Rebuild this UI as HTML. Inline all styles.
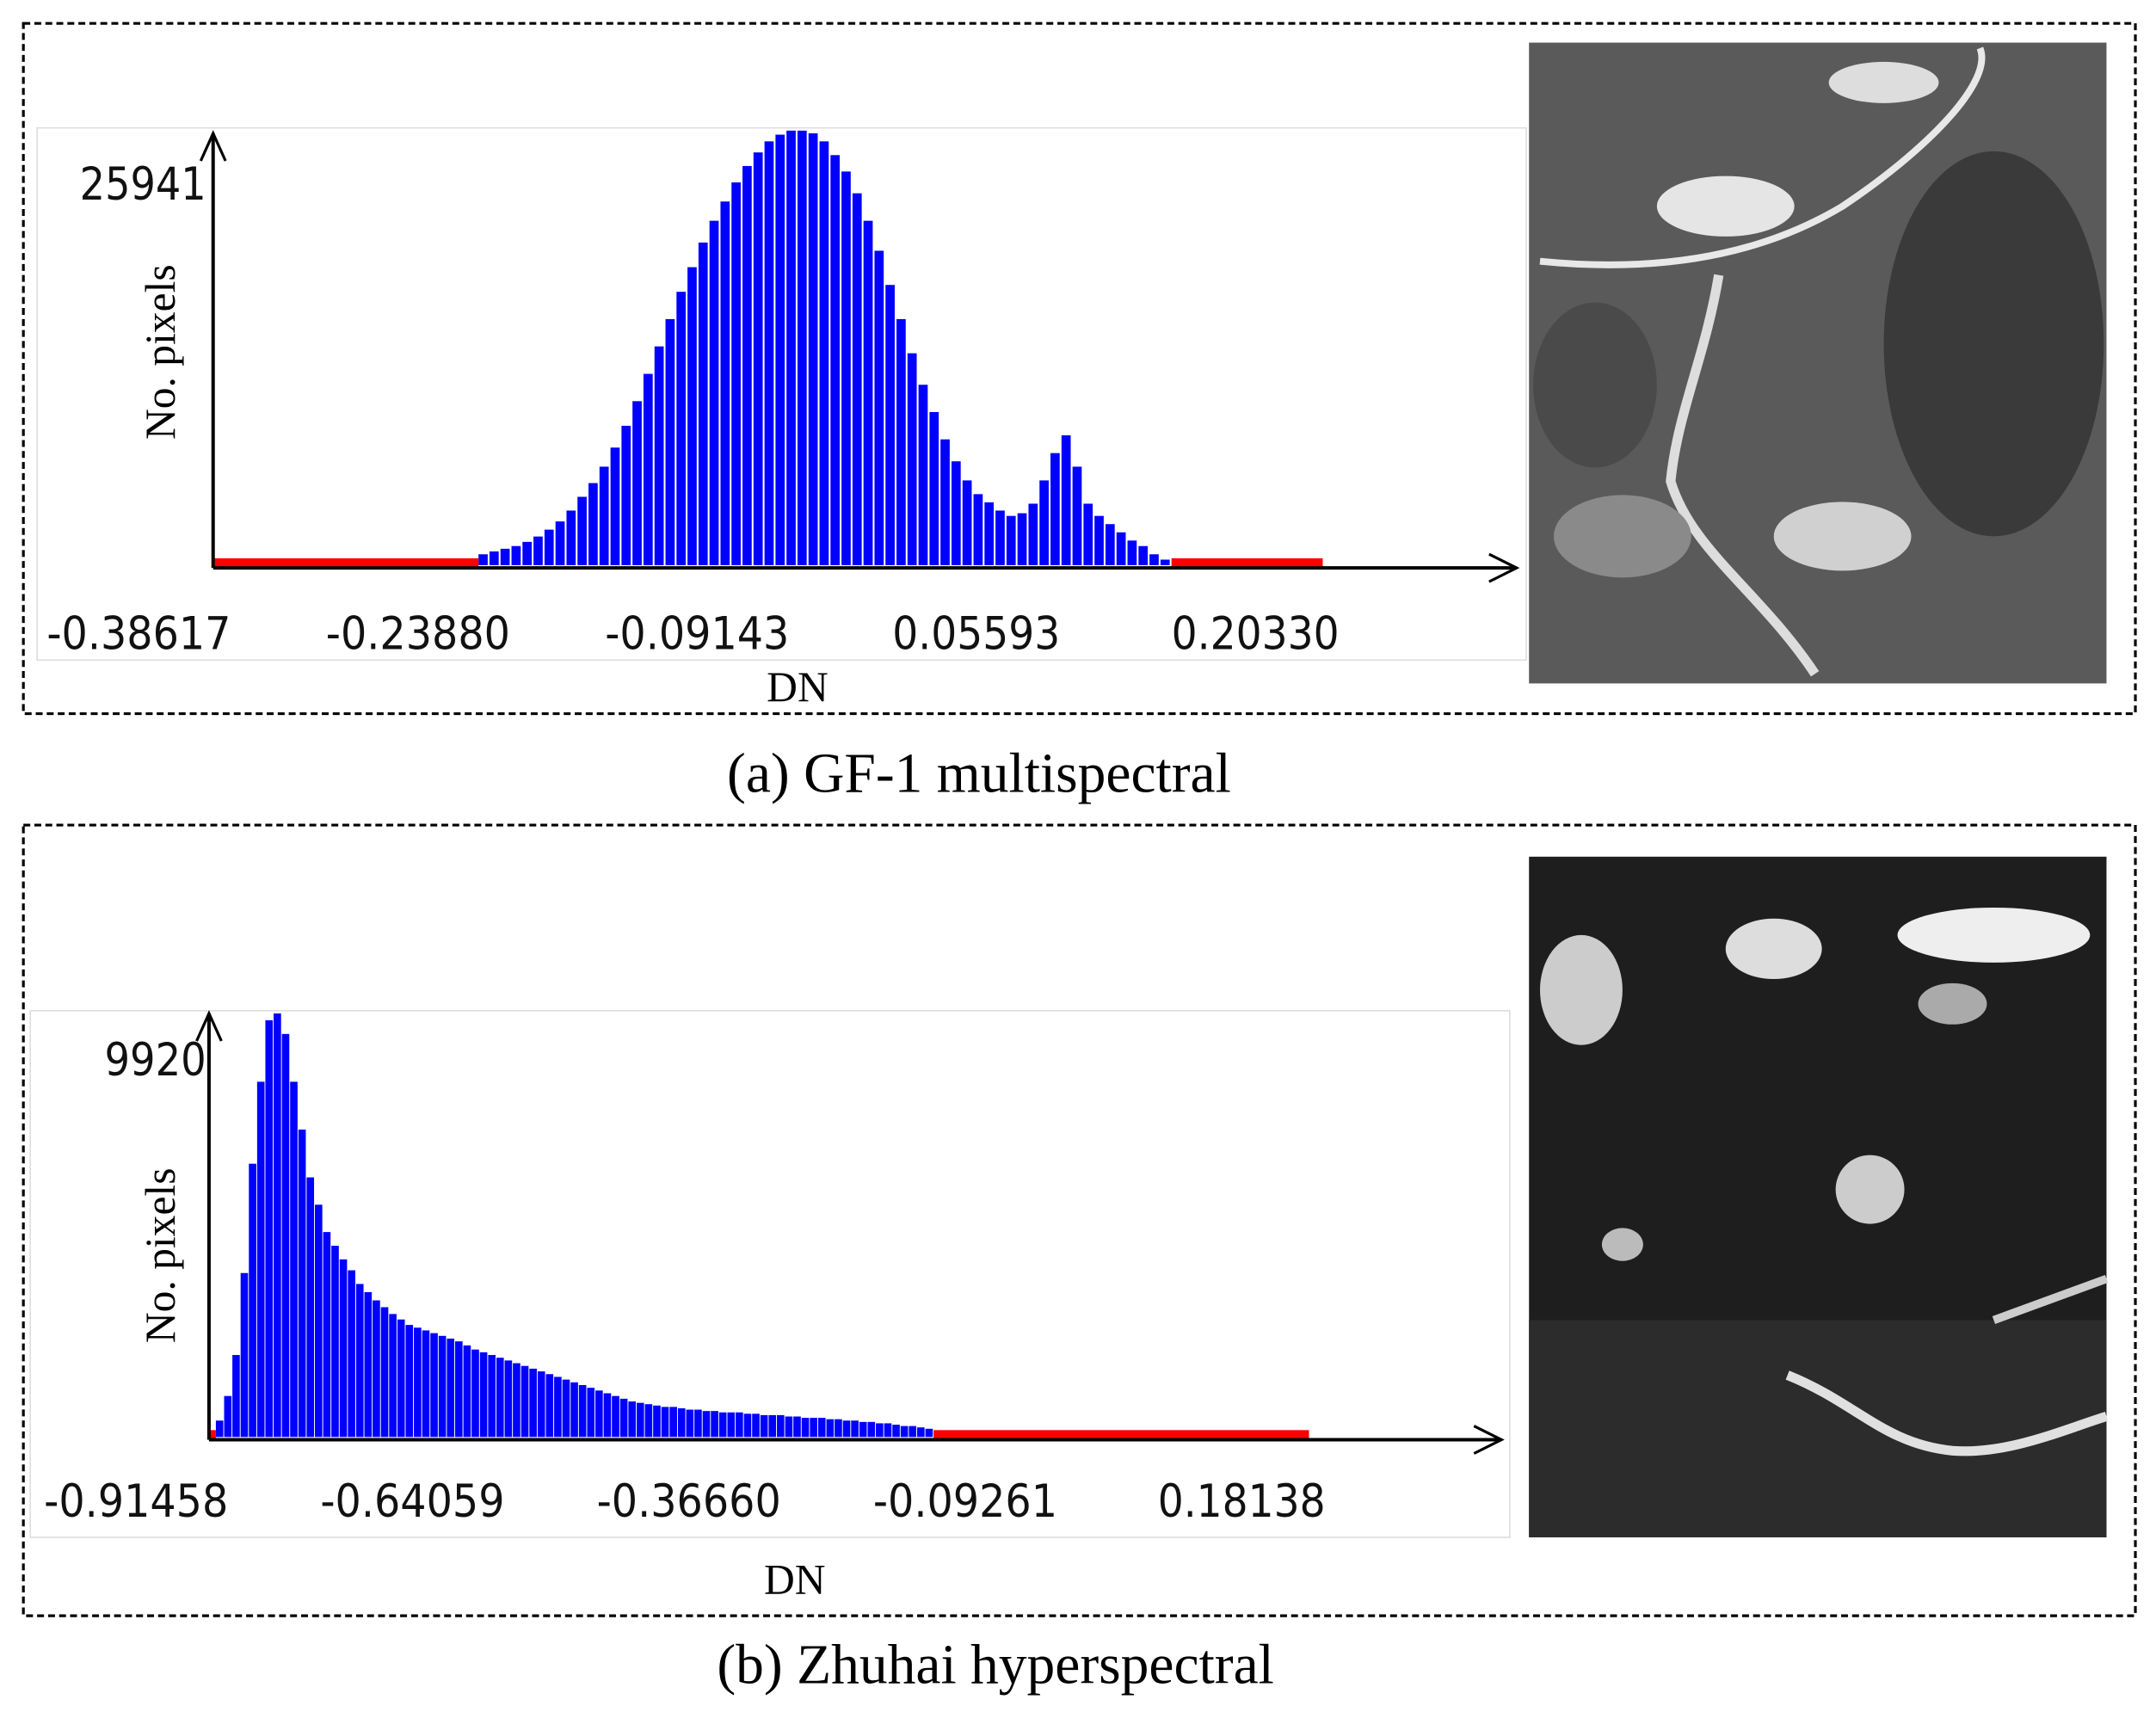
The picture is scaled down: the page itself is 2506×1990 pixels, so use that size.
<!DOCTYPE html>
<html><head><meta charset="utf-8">
<style>
html,body{margin:0;padding:0;background:#fff;}
svg{display:block;}
.tick{font-family:"DejaVu Sans","Liberation Sans",sans-serif;font-size:33px;fill:#111;}
.lab{font-family:"Liberation Serif",serif;font-size:31px;fill:#000;}
.cap{font-family:"Liberation Serif",serif;font-size:41px;fill:#000;}
</style></head>
<body>
<svg id="fig" width="2506" height="1990" viewBox="0 0 1568 1245" preserveAspectRatio="none" xmlns="http://www.w3.org/2000/svg">
<rect x="0" y="0" width="1568" height="1245" fill="#fff"/>
<!-- panel a -->
<rect x="17" y="17" width="1536" height="502" fill="none" stroke="#000" stroke-width="2" stroke-dasharray="5,3"/>
<rect x="27" y="93" width="1083" height="387" fill="none" stroke="#ddd" stroke-width="1"/>
<g id="barsA"></g>
<g id="axesA">
<line x1="155" y1="413" x2="1103" y2="413" stroke="#000" stroke-width="2.5"/>
<polyline points="1083,403 1103,413 1083,423" fill="none" stroke="#000" stroke-width="2"/>
<line x1="155" y1="413" x2="155" y2="97" stroke="#000" stroke-width="2.5"/>
<polyline points="146,117 155,97 164,117" fill="none" stroke="#000" stroke-width="2"/>
</g>
<text class="tick" x="150" y="145" text-anchor="end" textLength="92" lengthAdjust="spacingAndGlyphs">25941</text>
<text class="lab" transform="translate(127,256) rotate(-90)" text-anchor="middle">No. pixels</text>
<g id="ticksA"></g>
<text class="lab" x="580" y="510" text-anchor="middle">DN</text>
<g>
<rect x="1112" y="31" width="420" height="466" fill="#5a5a5a"/>
<ellipse cx="1450" cy="250" rx="80" ry="140" fill="#3a3a3a"/>
<ellipse cx="1160" cy="280" rx="45" ry="60" fill="#4a4a4a"/>
<path d="M1440,35 C1450,60 1400,110 1340,150 C1290,180 1220,200 1120,190" stroke="#e8e8e8" stroke-width="5" fill="none"/>
<path d="M1250,200 C1240,260 1220,300 1215,350 C1230,400 1280,430 1320,490" stroke="#ddd" stroke-width="7" fill="none"/>
<ellipse cx="1255" cy="150" rx="50" ry="22" fill="#e5e5e5"/>
<ellipse cx="1370" cy="60" rx="40" ry="15" fill="#ddd"/>
<ellipse cx="1180" cy="390" rx="50" ry="30" fill="#8a8a8a"/>
<ellipse cx="1340" cy="390" rx="50" ry="25" fill="#d0d0d0"/>
</g>
<text class="cap" x="712" y="576" text-anchor="middle">(a) GF-1 multispectral</text>
<!-- panel b -->
<rect x="17" y="600" width="1536" height="575" fill="none" stroke="#000" stroke-width="2" stroke-dasharray="5,3"/>
<rect x="22" y="735" width="1076" height="383" fill="none" stroke="#ddd" stroke-width="1"/>
<g id="barsB"></g>
<g id="axesB">
<line x1="152" y1="1047" x2="1092" y2="1047" stroke="#000" stroke-width="2.5"/>
<polyline points="1072,1037 1092,1047 1072,1057" fill="none" stroke="#000" stroke-width="2"/>
<line x1="152" y1="1047" x2="152" y2="737" stroke="#000" stroke-width="2.5"/>
<polyline points="143,757 152,737 161,757" fill="none" stroke="#000" stroke-width="2"/>
</g>
<text class="tick" x="150" y="782" text-anchor="end" textLength="74" lengthAdjust="spacingAndGlyphs">9920</text>
<text class="lab" transform="translate(127,913) rotate(-90)" text-anchor="middle">No. pixels</text>
<g id="ticksB"></g>
<text class="lab" x="578" y="1159" text-anchor="middle">DN</text>
<g>
<rect x="1112" y="623" width="420" height="495" fill="#1e1e1e"/>
<rect x="1112" y="960" width="420" height="158" fill="#2c2c2c"/>
<ellipse cx="1450" cy="680" rx="70" ry="20" fill="#eee"/>
<ellipse cx="1290" cy="690" rx="35" ry="22" fill="#ddd"/>
<ellipse cx="1150" cy="720" rx="30" ry="40" fill="#ccc"/>
<ellipse cx="1360" cy="865" rx="25" ry="25" fill="#ccc"/>
<ellipse cx="1180" cy="905" rx="15" ry="12" fill="#bbb"/>
<ellipse cx="1420" cy="730" rx="25" ry="15" fill="#aaa"/>
<path d="M1300,1000 C1350,1020 1370,1050 1420,1055 C1460,1058 1500,1040 1532,1030" stroke="#e0e0e0" stroke-width="7" fill="none"/>
<path d="M1450,960 L1532,930" stroke="#ccc" stroke-width="6" fill="none"/>
</g>
<text class="cap" x="724" y="1224" text-anchor="middle">(b) Zhuhai hyperspectral</text>
</svg>
<script>
const countsA = [650,820,980,1140,1390,1710,2120,2610,3260,4080,4900,5880,7020,8320,9790,11420,13060,14690,16320,17790,19260,20560,21710,22850,23830,24640,25300,25700,25941,25941,25780,25300,24480,23500,22200,20560,18770,16730,14690,12650,10770,9140,7510,6200,5060,4240,3750,3260,2940,3100,3670,5060,6690,7750,5880,3670,2940,2450,1960,1470,1140,650,330];
const maxA = 25941;
const ticksA = ["-0.38617","-0.23880","-0.09143","0.05593","0.20330"];
const countsB = [384,960,1920,3840,6400,8320,9760,9920,9440,8320,7200,6080,5440,4800,4480,4160,3904,3584,3392,3200,3040,2880,2752,2624,2560,2496,2432,2368,2304,2240,2144,2048,1984,1920,1856,1792,1728,1664,1600,1536,1472,1408,1344,1280,1216,1152,1088,1024,960,896,832,800,768,736,704,704,672,640,640,608,608,576,576,576,544,544,512,512,512,480,480,448,448,448,416,416,384,384,352,352,320,320,288,256,256,224,192];
const maxB = 9920;
const ticksB = ["-0.91458","-0.64059","-0.36660","-0.09261","0.18138"];
const NS="http://www.w3.org/2000/svg";
function mk(tag,attrs,parent){const e=document.createElementNS(NS,tag);for(const k in attrs)e.setAttribute(k,attrs[k]);parent.appendChild(e);return e;}
function drawHist(gid,counts,max,x0,bw,base,hpx,gap){
  const g=document.getElementById(gid);
  const yS=v=>v/max*hpx;
  counts.forEach((v,i)=>{
    const r=mk('rect',{x:x0+i*bw,y:base-yS(v),width:bw-gap,height:yS(v),fill:'#0000ff'},g);
    
    
  });
  return x0+counts.length*bw;
}
const endA=drawHist('barsA',countsA,maxA,348,8,411,316,1.3);
let g=document.getElementById('barsA');
let r=mk('rect',{x:155,y:406,width:193,height:6,fill:'#ff0000'},g);

r=mk('rect',{x:endA,y:406,width:962-endA,height:6,fill:'#ff0000'},g);

const endB=drawHist('barsB',countsB,maxB,157,6,1045,308,0.6);
g=document.getElementById('barsB');
r=mk('rect',{x:152,y:1040,width:5,height:6,fill:'#ff0000'},g);

r=mk('rect',{x:endB,y:1040,width:952-endB,height:6,fill:'#ff0000'},g);

function drawTicks(gid,labels,cx0,step,y){
  const g=document.getElementById(gid);
  labels.forEach((t,i)=>{
    const e=mk('text',{x:cx0+i*step,y:y,'text-anchor':'middle',class:'tick',textLength:(t[0]=='-'?134:122),lengthAdjust:'spacingAndGlyphs'},g);
    e.textContent=t;
    
    
  });
}
drawTicks('ticksA',ticksA,101,203,472);
drawTicks('ticksB',ticksB,99,201,1103);
</script>
</body></html>
